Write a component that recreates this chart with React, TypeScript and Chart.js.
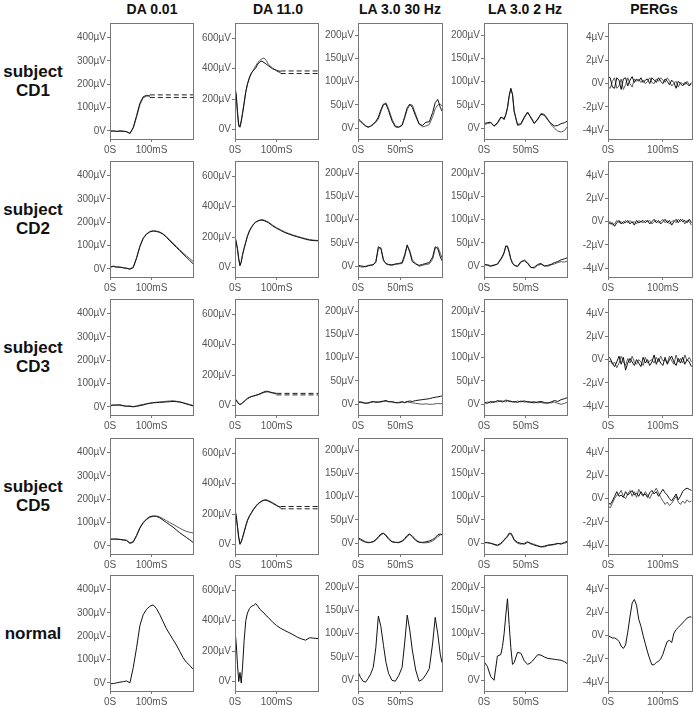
import React, { useEffect, useRef } from "react";
import { Chart, registerables } from "chart.js";

Chart.register(...registerables);

// ---------- text ----------
const COLUMN_TITLES = ["DA 0.01", "DA 11.0", "LA 3.0 30 Hz", "LA 3.0 2 Hz", "PERGs"];
const ROW_LABELS = [["subject", "CD1"], ["subject", "CD2"], ["subject", "CD3"], ["subject", "CD5"], ["normal"]];

// ---------- time axes (ms) ----------
const T_DA01 = [0, 8, 16, 24, 32, 40, 48, 56, 64, 72, 80, 88, 96, 104, 112, 120, 128, 136, 144, 152, 160, 168, 176, 184, 192, 200];
const T_DA11 = [0, 3, 6, 9, 12, 15, 18, 22, 26, 30, 35, 40, 45, 50, 55, 60, 65, 70, 75, 80, 90, 100, 110, 120, 130, 140, 150, 160, 170, 180, 190, 200];
const T_LA30 = [0, 3, 6, 9, 12, 15, 18, 21, 24, 27, 30, 33, 36, 40, 44, 48, 52, 55, 58, 61, 64, 68, 72, 76, 80, 84, 88, 91, 94, 97, 99];
const T_LA2 = [0, 4, 8, 12, 16, 20, 22, 24, 26, 28, 30, 32, 34, 36, 40, 44, 48, 52, 56, 60, 64, 68, 72, 76, 80, 84, 88, 92, 96, 99];
const T_PERG = [0, 4, 8, 12, 16, 20, 24, 28, 32, 36, 40, 44, 48, 52, 56, 60, 64, 68, 72, 76, 80, 84, 88, 92, 96, 100, 104, 108, 112, 116, 120, 124, 128, 132, 136, 140, 144, 148, 152];

// ---------- tick values ----------
const Y_TICKS_DA01 = [0, 100, 200, 300, 400];
const Y_TICKS_DA11 = [0, 200, 400, 600];
const Y_TICKS_LA = [0, 50, 100, 150, 200];
const Y_TICKS_PERG = [-4, -2, 0, 2, 4];
const X_TICKS_DA = [0, 100];
const X_TICKS_LA = [0, 50];
const X_TICKS_PERG = [0, 100];

// ---------- subject CD1 ----------
const CD1_DA01_A = [0, -1, -2, 0, -2, -3, -12, 15, 65, 118, 146, 152, 148, null, null, null, null, null, null, null, null, null, null, null, null, null];
const CD1_DA01_B = [-3, 0, -3, -2, -1, -5, -9, 10, 58, 112, 142, 148, 152, null, null, null, null, null, null, null, null, null, null, null, null, null];
const CD1_DA01_DASH = [154, 143];
const CD1_DA01_DASH_FROM = 96;
const CD1_DA11_A = [280, 230, 120, 30, 15, 50, 100, 170, 250, 300, 345, 375, 390, 405, 430, 445, 450, 440, 430, 420, 400, 390, 380, null, null, null, null, null, null, null, null, null];
const CD1_DA11_B = [270, 210, 100, 20, 25, 60, 110, 180, 245, 295, 340, 370, 395, 420, 440, 455, 465, 470, 455, 430, 405, 385, 372, null, null, null, null, null, null, null, null, null];
const CD1_DA11_DASH = [385, 368];
const CD1_DA11_DASH_FROM = 110;
const CD1_LA30_A = [21, 16, 10, 5, 2, 5, 9, 15, 24, 40, 52, 52, 38, 16, 3, 2, 7, 25, 44, 52, 45, 26, 9, 6, 13, 14, 34, 55, 62, 45, 37];
const CD1_LA30_B = [18, 14, 9, 5, 3, 4, 8, 13, 20, 36, 50, 55, 42, 20, 5, 3, 6, 22, 40, 50, 50, 30, 10, 3, 5, 8, 25, 42, 50, 52, 48];
const CD1_LA2_A = [10, 12, 13, 5, 12, 24, 22, 20, 30, 45, 70, 86, 72, 35, 8, 10, 24, 35, 22, 10, 20, 30, 28, 18, 10, 5, 6, 10, 12, 15];
const CD1_LA2_B = [8, 10, 12, 4, 10, 22, 24, 18, 28, 42, 68, 84, 74, 38, 6, 8, 22, 33, 24, 12, 18, 32, 30, 20, 8, 0, -6, -8, -5, 3];
const CD1_PERG_A = [0.6, 0.5, -0.3, -0.4, 0.5, 0.3, -0.5, 0.4, 0.5, -0.2, 0.3, 0.6, 0.1, 0.4, 0.2, 0.5, 0.1, 0.3, 0.4, 0.0, 0.5, 0.3, 0.1, 0.5, 0.2, 0.0, 0.4, 0.2, -0.1, 0.3, 0.1, -0.4, 0.2, 0.0, -0.2, 0.1, 0.0, -0.2, 0.0];
const CD1_PERG_B = [-0.3, -0.4, 0.2, 0.5, -0.4, -0.2, 0.4, -0.5, -0.1, 0.5, 0.0, -0.3, 0.4, 0.2, 0.4, 0.1, 0.3, 0.0, 0.2, 0.5, 0.1, 0.0, 0.4, 0.2, 0.5, 0.3, 0.1, 0.5, 0.2, -0.2, 0.0, 0.2, -0.3, 0.1, 0.0, -0.1, 0.2, -0.1, 0.1];

// ---------- subject CD2 ----------
const CD2_DA01_A = [8, 10, 7, 8, 4, 2, -2, 5, 45, 95, 130, 148, 158, 162, 160, 156, 148, 135, 120, 106, 92, 78, 64, 50, 36, 22];
const CD2_DA01_B = [6, 12, 9, 6, 5, 3, 0, 8, 48, 98, 132, 150, 160, 163, 162, 158, 150, 138, 124, 110, 96, 82, 68, 56, 44, 32];
const CD2_DA11_A = [205, 170, 125, 60, 15, 35, 80, 125, 165, 205, 240, 265, 285, 298, 305, 310, 312, 308, 302, 296, 275, 258, 244, 230, 220, 210, 202, 194, 186, 180, 177, 176];
const CD2_DA11_B = [200, 160, 115, 50, 10, 40, 85, 130, 170, 210, 245, 268, 288, 300, 308, 312, 315, 312, 306, 300, 280, 262, 248, 234, 223, 213, 205, 197, 190, 184, 180, 178];
const CD2_LA30_A = [2, 1, 0, -1, 1, 2, 3, 10, 42, 38, 12, 6, 4, 3, 5, 6, 8, 25, 46, 30, 10, 5, 2, 4, 6, 8, 20, 42, 38, 20, 12];
const CD2_LA30_B = [0, -1, -2, 0, 2, 3, 4, 8, 38, 40, 15, 5, 3, 2, 4, 5, 6, 20, 44, 34, 14, 6, 0, 2, 4, 5, 15, 38, 42, 28, 18];
const CD2_LA2_A = [4, 2, 0, 2, 5, 16, 22, 30, 44, 42, 30, 15, 6, 2, 0, 10, 12, 6, -3, -2, 4, 6, 0, 2, 4, 8, 10, 14, 16, 18];
const CD2_LA2_B = [3, 4, 1, 3, 4, 14, 20, 28, 42, 44, 32, 16, 8, 3, -1, 8, 14, 8, -2, -4, 2, 4, 2, 0, 3, 5, 8, 10, 9, 11];
const CD2_PERG_A = [0.0, -0.2, -0.1, -0.4, -0.1, 0.1, -0.2, 0.0, -0.1, 0.1, -0.2, 0.0, -0.3, 0.1, -0.1, 0.0, 0.1, -0.1, 0.1, -0.2, 0.0, 0.2, -0.1, 0.1, -0.2, 0.0, 0.2, -0.1, 0.1, -0.3, 0.0, 0.2, -0.1, 0.2, 0.0, 0.1, -0.1, 0.2, -0.1];
const CD2_PERG_B = [-0.1, 0.0, -0.3, -0.2, 0.1, -0.1, 0.0, -0.2, 0.1, -0.1, 0.1, -0.1, 0.0, -0.2, 0.1, 0.0, -0.1, 0.1, 0.0, 0.1, -0.2, 0.0, 0.1, -0.1, 0.0, 0.2, -0.1, 0.1, -0.2, 0.0, 0.1, -0.1, 0.2, 0.0, 0.2, -0.2, 0.1, 0.0, -0.3];

// ---------- subject CD3 ----------
const CD3_DA01_A = [6, 8, 7, 9, 5, 3, 2, 0, 2, 5, 8, 12, 15, 17, 18, 19, 20, 21, 22, 23, 22, 20, 17, 12, 8, 4];
const CD3_DA01_B = [4, 6, 9, 6, 4, 2, 4, 1, 4, 8, 10, 14, 16, 18, 20, 21, 22, 24, 25, 26, 24, 22, 18, 14, 10, 6];
const CD3_DA11_A = [45, 38, 25, 12, 8, 12, 18, 28, 38, 48, 55, 60, 64, 68, 72, 78, 84, 90, 95, 92, 85, 80, null, null, null, null, null, null, null, null, null, null];
const CD3_DA11_B = [40, 32, 20, 10, 6, 10, 16, 25, 35, 44, 52, 58, 62, 66, 70, 74, 80, 86, 88, 90, 82, 75, null, null, null, null, null, null, null, null, null, null];
const CD3_DA11_DASH = [80, 70];
const CD3_DA11_DASH_FROM = 100;
const CD3_LA30_A = [5, 4, 3, 2, 3, 5, 6, 4, 5, 6, 7, 8, 6, 5, 4, 3, 5, 4, 6, 7, 6, 8, 9, 10, 11, 12, 14, 15, 16, 17, 18];
const CD3_LA30_B = [4, 6, 4, 3, 2, 4, 5, 6, 4, 5, 6, 7, 5, 6, 3, 4, 6, 3, 5, 4, 3, 2, 1, 0, 1, 0, 0, 1, 2, 1, 2];
const CD3_LA2_A = [4, 2, 6, 4, 8, 6, 5, 7, 9, 8, 6, 7, 5, 6, 4, 7, 5, 6, 4, 3, 5, 6, 4, 2, 5, 8, 6, 10, 12, 14];
const CD3_LA2_B = [2, 5, 3, 6, 5, 8, 7, 6, 5, 7, 8, 5, 6, 4, 7, 5, 8, 4, 5, 6, 3, 4, 2, 4, 3, 5, 2, 0, 2, 4];
const CD3_PERG_A = [0.3, 0.1, -0.3, -0.6, -0.2, 0.3, -0.4, 0.2, -0.9, -0.3, 0.1, -0.2, -0.5, 0.0, -0.3, -0.6, 0.2, -0.3, 0.0, -0.5, -0.2, 0.4, -0.4, 0.1, -0.3, -0.5, 0.2, -0.4, 0.0, 0.3, -0.2, -0.5, 0.1, -0.3, 0.2, -0.4, 0.0, -0.2, -0.6];
const CD3_PERG_B = [-0.3, -0.1, -0.4, -0.2, -0.7, -0.3, 0.3, -0.2, -0.5, 0.1, -0.3, 0.3, -0.2, -0.4, 0.0, -0.2, -0.5, 0.2, -0.3, -0.1, 0.0, -0.3, 0.2, -0.2, 0.3, -0.1, 0.0, -0.3, 0.3, -0.1, -0.4, 0.4, -0.2, 0.1, -0.3, 0.4, -0.1, 0.2, -0.2];

// ---------- subject CD5 ----------
const CD5_DA01_A = [30, 28, 30, 27, 26, 24, 12, 18, 45, 78, 100, 115, 125, 128, 126, 120, 110, 100, 90, 80, 68, 56, 46, 36, 26, 15];
const CD5_DA01_B = [26, 30, 27, 28, 24, 22, 10, 15, 42, 75, 98, 112, 122, 126, 128, 124, 116, 108, 100, 92, 84, 76, 68, 62, 58, 55];
const CD5_DA11_A = [230, 190, 120, 50, 5, 20, 45, 85, 125, 160, 190, 212, 235, 252, 268, 278, 287, 292, 290, 286, 272, 256, 245, null, null, null, null, null, null, null, null, null];
const CD5_DA11_B = [220, 180, 110, 40, 0, 15, 40, 80, 118, 155, 185, 208, 230, 248, 264, 276, 285, 292, 295, 290, 276, 260, 240, null, null, null, null, null, null, null, null, null];
const CD5_DA11_DASH = [250, 235];
const CD5_DA11_DASH_FROM = 110;
const CD5_LA30_A = [12, 9, 6, 3, 2, 2, 4, 8, 14, 20, 22, 16, 9, 3, 2, 2, 5, 10, 17, 20, 14, 6, 2, 2, 3, 5, 8, 12, 18, 20, 18];
const CD5_LA30_B = [10, 7, 4, 2, 1, 2, 3, 6, 12, 18, 21, 18, 11, 4, 2, 1, 4, 8, 14, 19, 16, 8, 3, 1, 1, 2, 5, 9, 14, 18, 19];
const CD5_LA2_A = [2, 1, 0, -2, -4, 0, 4, 8, 10, 14, 20, 22, 16, 8, 2, 0, -2, 2, 0, -4, -6, -8, -6, -4, -3, -2, 0, -2, 2, 4];
const CD5_LA2_B = [1, 2, 0, -3, -5, -2, 2, 6, 12, 16, 22, 20, 14, 6, 0, -2, 0, 4, -2, -2, -5, -7, -8, -5, -4, -3, -1, 0, 0, 2];
const CD5_PERG_A = [-0.3, -0.5, -0.2, 0.2, 0.6, 0.2, 0.3, 0.1, 0.6, 0.3, 0.5, 0.7, 0.3, 0.5, 0.2, 0.6, 0.3, 0.4, 0.1, 0.5, 0.7, 0.4, 0.6, 0.2, 0.5, 0.8, 0.5, 0.3, 0.0, -0.2, 0.1, 0.4, -0.1, 0.2, 0.6, 0.8, 0.9, 0.8, 0.7];
const CD5_PERG_B = [-0.6, -0.8, -0.4, 0.0, 0.3, 0.4, 0.7, 0.2, 0.0, 0.4, 0.7, 0.2, 0.6, 0.1, 0.8, 0.4, 0.2, 0.6, 0.3, 0.0, 0.4, 0.6, 0.9, 0.5, 0.1, -0.2, -0.5, -0.3, -0.6, -0.4, -0.1, 0.2, -0.3, -0.5, -0.2, -0.4, -0.1, -0.3, -0.2];

// ---------- normal ----------
const NORMAL_DA01 = [-4, -3, 0, 3, 5, 8, 0, 65, 150, 245, 292, 315, 328, 334, 318, 292, 262, 232, 208, 185, 162, 135, 108, 88, 75, 58];
const NORMAL_DA11 = [335, 250, 110, 0, 60, -10, 90, 270, 400, 450, 480, 495, 500, 512, 495, 475, 462, 450, 433, 422, 392, 368, 350, 335, 322, 308, 292, 280, 272, 288, 285, 282];
const NORMAL_LA30 = [18, 6, -2, -4, 4, 14, 28, 70, 138, 115, 75, 38, 15, 0, -2, 10, 28, 80, 140, 108, 65, 22, -2, 2, 12, 25, 80, 135, 100, 55, 38];
const NORMAL_LA2 = [40, 30, 8, 0, 52, 55, 72, 100, 140, 175, 120, 70, 34, 38, 60, 58, 42, 34, 38, 46, 55, 54, 50, 47, 46, 45, 44, 43, 40, 36];
const NORMAL_PERG = [0, -0.1, -0.2, -0.2, -0.3, -0.5, -0.9, -1.1, -0.8, 0.3, 1.6, 2.8, 3.1, 2.6, 1.4, 0.8, 0.0, -0.7, -1.4, -2.0, -2.5, -2.5, -2.3, -2.2, -2.0, -1.6, -1.0, -0.5, -0.4, -0.6, 0.2, 0.5, 0.7, 0.9, 1.1, 1.3, 1.5, 1.6, 1.6];

// ---------- formatting ----------
const fmtY = (v: number) => (v === 0 ? "0V" : `${v}µV`);
const fmtX = (v: number) => (v === 0 ? "0S" : `${v}mS`);

type Col = { t: number[]; xMax: number; yMin: number; yMax: number; yTicks: number[]; xTicks: number[] };
const COLS: Col[] = [
  { t: T_DA01, xMax: 200, yMin: -35, yMax: 462, yTicks: Y_TICKS_DA01, xTicks: X_TICKS_DA },
  { t: T_DA11, xMax: 200, yMin: -62, yMax: 700, yTicks: Y_TICKS_DA11, xTicks: X_TICKS_DA },
  { t: T_LA30, xMax: 99, yMin: -23, yMax: 226, yTicks: Y_TICKS_LA, xTicks: X_TICKS_LA },
  { t: T_LA2, xMax: 99, yMin: -23, yMax: 226, yTicks: Y_TICKS_LA, xTicks: X_TICKS_LA },
  { t: T_PERG, xMax: 153, yMin: -4.75, yMax: 5.2, yTicks: Y_TICKS_PERG, xTicks: X_TICKS_PERG },
];

type PanelData = { traces: (number | null)[][]; dash?: { from: number; levels: number[] } };
const PANELS: PanelData[][] = [
  [
    { traces: [CD1_DA01_A, CD1_DA01_B], dash: { from: CD1_DA01_DASH_FROM, levels: CD1_DA01_DASH } },
    { traces: [CD1_DA11_A, CD1_DA11_B], dash: { from: CD1_DA11_DASH_FROM, levels: CD1_DA11_DASH } },
    { traces: [CD1_LA30_A, CD1_LA30_B] },
    { traces: [CD1_LA2_A, CD1_LA2_B] },
    { traces: [CD1_PERG_A, CD1_PERG_B] },
  ],
  [
    { traces: [CD2_DA01_A, CD2_DA01_B] },
    { traces: [CD2_DA11_A, CD2_DA11_B] },
    { traces: [CD2_LA30_A, CD2_LA30_B] },
    { traces: [CD2_LA2_A, CD2_LA2_B] },
    { traces: [CD2_PERG_A, CD2_PERG_B] },
  ],
  [
    { traces: [CD3_DA01_A, CD3_DA01_B] },
    { traces: [CD3_DA11_A, CD3_DA11_B], dash: { from: CD3_DA11_DASH_FROM, levels: CD3_DA11_DASH } },
    { traces: [CD3_LA30_A, CD3_LA30_B] },
    { traces: [CD3_LA2_A, CD3_LA2_B] },
    { traces: [CD3_PERG_A, CD3_PERG_B] },
  ],
  [
    { traces: [CD5_DA01_A, CD5_DA01_B] },
    { traces: [CD5_DA11_A, CD5_DA11_B], dash: { from: CD5_DA11_DASH_FROM, levels: CD5_DA11_DASH } },
    { traces: [CD5_LA30_A, CD5_LA30_B] },
    { traces: [CD5_LA2_A, CD5_LA2_B] },
    { traces: [CD5_PERG_A, CD5_PERG_B] },
  ],
  [
    { traces: [NORMAL_DA01] },
    { traces: [NORMAL_DA11] },
    { traces: [NORMAL_LA30] },
    { traces: [NORMAL_LA2] },
    { traces: [NORMAL_PERG] },
  ],
];

// ---------- layout / style ----------
const BOX_LEFT = [110, 235, 358, 484, 608];
const BOX_W = [83, 83, 84, 83, 84];
const BOX_TOP = [23, 161, 299, 438, 575];
const BOX_H = 116;
const HEADER_CX = [152, 278, 400, 525, 654];
const PAD_L = 46;
const PAD_T = 10;
const PAD_R = 4;
const PAD_B = 22;
const TRACE_COLORS = ["#111111", "#5a5a5a"];
const TICK_COLOR = "#555555";
const FRAME_COLOR = "#777777";
const FONT = "'Liberation Sans', Arial, Helvetica, sans-serif";

function Panel({ row, col }: { row: number; col: number }) {
  const ref = useRef<HTMLCanvasElement | null>(null);
  const c = COLS[col];
  const p = PANELS[row][col];
  const w = BOX_W[col];
  const cw = PAD_L + w + PAD_R;
  const ch = PAD_T + BOX_H + PAD_B;

  useEffect(() => {
    const canvas = ref.current;
    if (!canvas) return;
    const datasets: any[] = p.traces.map((vals, k) => ({
      data: c.t
        .map((x, i) => (vals[i] == null ? null : { x, y: vals[i] as number }))
        .filter((d) => d !== null),
      borderColor: TRACE_COLORS[k],
      borderWidth: 1,
      pointRadius: 0,
      tension: 0,
      fill: false,
    }));
    if (p.dash) {
      const d = p.dash;
      d.levels.forEach((lv) =>
        datasets.push({
          data: [
            { x: d.from, y: lv },
            { x: c.xMax, y: lv },
          ],
          borderColor: "#222222",
          borderWidth: 1,
          borderDash: [5, 3],
          pointRadius: 0,
          fill: false,
        })
      );
    }
    const framePlugin = {
      id: "frame",
      afterDatasetsDraw(chart: any) {
        const { ctx, chartArea: a } = chart;
        ctx.save();
        ctx.strokeStyle = FRAME_COLOR;
        ctx.lineWidth = 1;
        ctx.strokeRect(Math.round(a.left) + 0.5, Math.round(a.top) + 0.5, Math.round(a.width), Math.round(a.height));
        ctx.restore();
      },
    };
    const tickFont = { family: FONT, size: 10 };
    const grid = { display: true, drawOnChartArea: false, drawTicks: true, tickLength: 3, color: FRAME_COLOR };
    const chart = new Chart(canvas, {
      type: "line",
      data: { datasets },
      options: {
        animation: false,
        responsive: false,
        maintainAspectRatio: false,
        devicePixelRatio: 1,
        events: [],
        layout: { padding: { left: 0, top: PAD_T, right: PAD_R, bottom: 0 }, autoPadding: false },
        plugins: { legend: { display: false }, tooltip: { enabled: false } },
        scales: {
          x: {
            type: "linear",
            min: 0,
            max: c.xMax,
            afterBuildTicks: (s: any) => {
              s.ticks = c.xTicks.map((v) => ({ value: v }));
            },
            afterFit: (s: any) => {
              s.height = PAD_B;
            },
            ticks: {
              callback: (v: any) => fmtX(Number(v)),
              color: TICK_COLOR,
              font: tickFont,
              padding: 2,
              maxRotation: 0,
              autoSkip: false,
            },
            grid,
            border: { display: false },
          },
          y: {
            type: "linear",
            min: c.yMin,
            max: c.yMax,
            afterBuildTicks: (s: any) => {
              s.ticks = c.yTicks.map((v) => ({ value: v }));
            },
            afterFit: (s: any) => {
              s.width = PAD_L;
            },
            ticks: {
              callback: (v: any) => fmtY(Number(v)),
              color: TICK_COLOR,
              font: tickFont,
              padding: 1,
              autoSkip: false,
            },
            grid,
            border: { display: false },
          },
        },
      } as any,
      plugins: [framePlugin],
    });
    return () => chart.destroy();
  }, []);

  return (
    <canvas
      ref={ref}
      width={cw}
      height={ch}
      style={{ position: "absolute", left: BOX_LEFT[col] - PAD_L, top: BOX_TOP[row] - PAD_T, width: cw, height: ch }}
    />
  );
}

export default function App() {
  return (
    <div style={{ position: "absolute", left: 0, top: 0, width: 694, height: 708, background: "#fff", overflow: "hidden" }}>
      {COLUMN_TITLES.map((title, i) => (
        <div
          key={title}
          style={{
            position: "absolute",
            left: HEADER_CX[i] - 70,
            width: 140,
            top: 2,
            textAlign: "center",
            fontFamily: FONT,
            fontWeight: "bold",
            fontSize: 14,
            lineHeight: "14px",
            color: "#111",
            whiteSpace: "nowrap",
          }}
        >
          {title}
        </div>
      ))}
      {ROW_LABELS.map((lines, r) => (
        <div
          key={r}
          style={{
            position: "absolute",
            left: 0,
            width: 66,
            top: BOX_TOP[r],
            height: BOX_H,
            display: "flex",
            flexDirection: "column",
            justifyContent: "center",
            alignItems: "center",
            fontFamily: FONT,
            fontWeight: "bold",
            fontSize: 17,
            lineHeight: "19px",
            color: "#111",
          }}
        >
          {lines.map((l) => (
            <div key={l}>{l}</div>
          ))}
        </div>
      ))}
      {PANELS.map((rowPanels, r) => rowPanels.map((_, c) => <Panel key={`${r}-${c}`} row={r} col={c} />))}
    </div>
  );
}
